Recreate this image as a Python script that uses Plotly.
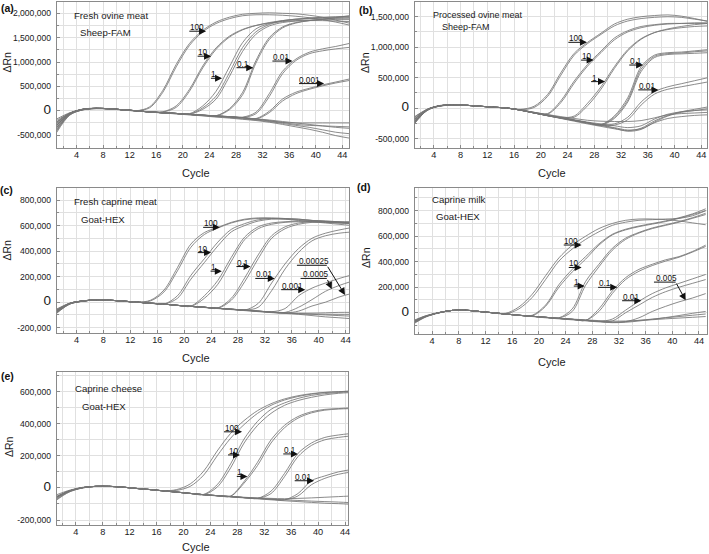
import plotly.graph_objects as go

# ---------------- data (ΔRn in thousands, read at odd cycles) ----------------
CYCLES = list(range(1, 46, 2))

# (a) Fresh ovine meat, Sheep-FAM
A_100_1 = [-250, -50, 30, 50, 40, 20, 0, 80, 420, 950, 1380, 1650, 1820, 1920, 1980, 2000, 2010, 2000, 1990, 1960, 1920, 1860, 1800]
A_100_2 = [-350, -70, 25, 50, 40, 20, 0, 60, 380, 900, 1340, 1620, 1790, 1890, 1950, 1970, 1970, 1960, 1940, 1910, 1870, 1820, 1760]
A_10_1 = [-300, -60, 30, 50, 40, 20, 0, -20, -20, 100, 440, 920, 1290, 1530, 1670, 1750, 1800, 1830, 1850, 1860, 1870, 1870, 1870]
A_10_2 = [-420, -80, 20, 45, 40, 20, 0, -20, -25, 70, 400, 880, 1260, 1510, 1660, 1750, 1810, 1850, 1880, 1900, 1920, 1930, 1940]
A_1_1 = [-200, -50, 30, 50, 40, 20, 0, -25, -40, -55, -60, 100, 400, 900, 1400, 1680, 1790, 1850, 1880, 1900, 1910, 1920, 1930]
A_1_2 = [-320, -60, 30, 50, 40, 20, 0, -25, -40, -55, -70, 60, 300, 780, 1300, 1620, 1770, 1840, 1870, 1890, 1900, 1900, 1900]
A_1_3 = [-270, -55, 30, 50, 40, 20, 0, -25, -40, -55, -72, 30, 240, 700, 1220, 1570, 1740, 1810, 1840, 1850, 1850, 1840, 1830]
A_01_1 = [-300, -60, 30, 50, 40, 20, 0, -25, -40, -55, -75, -90, -100, 40, 380, 1030, 1500, 1720, 1810, 1850, 1880, 1900, 1910]
A_01_2 = [-380, -70, 25, 50, 40, 20, 0, -25, -40, -55, -75, -90, -105, 20, 330, 980, 1460, 1700, 1800, 1850, 1880, 1910, 1950]
A_001_1 = [-300, -60, 30, 50, 40, 20, 0, -25, -40, -55, -75, -90, -105, -120, -130, -30, 350, 810, 1060, 1200, 1270, 1320, 1380]
A_001_2 = [-240, -50, 30, 50, 40, 20, 0, -25, -40, -55, -75, -90, -105, -125, -140, -60, 290, 760, 1030, 1170, 1230, 1270, 1300]
A_0001_1 = [-300, -60, 30, 50, 40, 20, 0, -25, -40, -55, -75, -90, -105, -120, -140, -160, -10, 240, 380, 460, 530, 590, 650]
A_0001_2 = [-350, -65, 28, 50, 40, 20, 0, -25, -40, -55, -75, -92, -108, -125, -145, -170, -40, 200, 350, 440, 510, 570, 620]
A_NEG_1 = [-170, -40, 35, 55, 40, 20, 0, -25, -40, -55, -75, -90, -105, -120, -140, -170, -210, -240, -250, -250, -250, -250, -250]
A_NEG_2 = [-300, -60, 30, 50, 40, 20, 0, -25, -40, -55, -75, -95, -110, -125, -145, -165, -190, -220, -250, -280, -310, -340, -360]
A_NEG_3 = [-400, -80, 20, 45, 40, 20, 0, -25, -45, -60, -80, -100, -120, -140, -165, -190, -220, -260, -300, -340, -390, -440, -470]
A_NEG_4 = [-450, -90, 20, 45, 35, 15, 0, -25, -45, -65, -85, -105, -130, -150, -175, -200, -235, -280, -330, -380, -440, -510, -560]
A_NEG_5 = [-230, -50, 30, 50, 40, 20, 0, -25, -40, -55, -75, -92, -110, -125, -145, -170, -200, -240, -280, -300, -310, -320, -330]

# (b) Processed ovine meat, Sheep-FAM
B_100_1 = [-200, -20, 40, 50, 45, 30, 15, 0, -20, 30, 220, 580, 900, 1080, 1230, 1380, 1460, 1500, 1520, 1530, 1510, 1470, 1420]
B_100_2 = [-260, -30, 35, 50, 45, 30, 15, 0, -25, 10, 190, 540, 870, 1060, 1210, 1350, 1430, 1470, 1490, 1500, 1490, 1460, 1430]
B_10_1 = [-230, -30, 40, 50, 45, 30, 15, 0, -33, -70, -90, 120, 445, 717, 935, 1150, 1270, 1340, 1370, 1390, 1390, 1390, 1390]
B_10_2 = [-180, -25, 40, 50, 45, 30, 15, 0, -33, -75, -100, 90, 410, 690, 910, 1120, 1250, 1320, 1360, 1380, 1390, 1400, 1400]
B_1_1 = [-230, -30, 40, 50, 45, 30, 15, 0, -33, -78, -120, -155, -130, 80, 350, 680, 960, 1140, 1240, 1290, 1320, 1340, 1350]
B_1_2 = [-250, -35, 38, 50, 45, 30, 15, 0, -35, -80, -122, -160, -150, 40, 310, 650, 940, 1130, 1240, 1300, 1340, 1370, 1390]
B_01_1 = [-230, -30, 40, 50, 45, 30, 15, 0, -33, -78, -120, -160, -200, -240, -270, -130, 170, 680, 870, 910, 920, 940, 960]
B_01_2 = [-270, -40, 35, 50, 45, 30, 15, 0, -35, -80, -125, -165, -205, -245, -280, -170, 100, 600, 830, 880, 890, 900, 910]
B_01_3 = [-200, -28, 40, 50, 45, 30, 15, 0, -33, -78, -120, -160, -200, -240, -275, -150, 130, 640, 850, 895, 905, 925, 940]
B_001_1 = [-230, -30, 40, 50, 45, 30, 15, 0, -33, -78, -120, -160, -200, -240, -275, -260, -150, 100, 270, 350, 400, 450, 500]
B_001_2 = [-160, -22, 42, 50, 45, 30, 15, 0, -33, -78, -120, -160, -200, -240, -280, -280, -190, 50, 230, 310, 350, 390, 430]
B_NEG_1 = [-270, -40, 35, 50, 45, 30, 15, 0, -35, -80, -125, -170, -215, -260, -300, -340, -370, -330, -210, -120, -60, -20, 20]
B_NEG_2 = [-150, -20, 45, 50, 45, 30, 15, 0, -30, -70, -110, -150, -190, -230, -260, -290, -320, -290, -180, -100, -60, -40, -30]
B_NEG_3 = [-230, -30, 40, 50, 45, 30, 15, 0, -30, -70, -105, -140, -170, -200, -215, -220, -220, -205, -160, -110, -90, -80, -70]
B_NEG_4 = [-200, -30, 40, 50, 45, 30, 15, 0, -35, -80, -120, -160, -200, -240, -280, -320, -360, -340, -240, -170, -140, -120, -110]
B_NEG_5 = [-250, -35, 40, 50, 45, 30, 15, 0, -35, -80, -125, -165, -205, -245, -285, -330, -380, -350, -230, -130, -70, -40, -10]

# (c) Fresh caprine meat, Goat-HEX
C_100_1 = [-70, -10, 10, 18, 15, 8, 0, 15, 95, 270, 455, 545, 585, 625, 650, 660, 660, 655, 650, 640, 632, 625, 620]
C_100_2 = [-85, -15, 8, 18, 15, 8, 0, 10, 80, 245, 430, 530, 580, 620, 645, 655, 655, 650, 640, 630, 620, 610, 600]
C_10_1 = [-70, -10, 10, 18, 15, 8, 0, -8, -15, 50, 210, 340, 470, 570, 615, 645, 655, 655, 650, 640, 635, 630, 625]
C_10_2 = [-60, -8, 10, 18, 15, 8, 0, -8, -15, 30, 180, 310, 440, 550, 600, 635, 650, 650, 645, 640, 635, 630, 630]
C_1_1 = [-70, -10, 10, 18, 15, 8, 0, -8, -15, -25, -30, 50, 170, 350, 510, 590, 620, 630, 635, 635, 630, 625, 620]
C_1_2 = [-80, -12, 9, 18, 15, 8, 0, -8, -15, -25, -33, 30, 140, 320, 490, 575, 610, 625, 630, 630, 625, 620, 615]
C_01_1 = [-70, -10, 10, 18, 15, 8, 0, -8, -15, -25, -33, -40, -45, 30, 190, 370, 520, 590, 620, 630, 630, 625, 620]
C_01_2 = [-90, -15, 8, 18, 15, 8, 0, -8, -15, -25, -33, -40, -48, 15, 160, 340, 500, 575, 610, 625, 625, 620, 615]
C_001_1 = [-70, -10, 10, 18, 15, 8, 0, -8, -15, -25, -33, -40, -48, -55, -62, -10, 150, 300, 420, 500, 540, 565, 585]
C_001_2 = [-75, -12, 10, 18, 15, 8, 0, -8, -15, -25, -33, -40, -48, -55, -62, -40, 90, 260, 390, 480, 520, 540, 550]
C_0001 = [-70, -10, 10, 18, 15, 8, 0, -8, -15, -25, -33, -40, -48, -55, -62, -70, -75, -50, 50, 110, 150, 185, 215]
C_00005 = [-80, -12, 9, 18, 15, 8, 0, -8, -15, -25, -33, -40, -48, -55, -62, -70, -78, -80, -40, 20, 85, 130, 165]
C_000025 = [-65, -10, 10, 18, 15, 8, 0, -8, -15, -25, -33, -40, -48, -55, -62, -70, -78, -85, -70, -30, 0, 40, 70]
C_NEG_1 = [-70, -10, 10, 18, 15, 8, 0, -8, -15, -25, -33, -40, -48, -55, -62, -70, -78, -85, -90, -95, -100, -105, -110]
C_NEG_2 = [-55, -8, 11, 18, 15, 8, 0, -8, -15, -25, -33, -40, -48, -55, -62, -70, -76, -82, -85, -85, -83, -80, -80]
C_NEG_3 = [-85, -14, 8, 18, 15, 8, 0, -8, -15, -25, -33, -42, -50, -58, -66, -74, -82, -88, -95, -105, -115, -122, -130]
C_NEG_4 = [-75, -12, 9, 18, 15, 8, 0, -8, -15, -25, -33, -40, -48, -56, -64, -72, -80, -86, -90, -92, -94, -95, -95]

# (d) Caprine milk, Goat-HEX
D_100_1 = [-80, -30, 0, 18, 20, 10, 0, -10, 30, 120, 260, 405, 500, 575, 635, 685, 710, 725, 730, 735, 740, 760, 800]
D_100_2 = [-70, -25, 0, 18, 20, 10, 0, -5, 45, 145, 290, 430, 530, 600, 660, 700, 725, 735, 735, 730, 720, 705, 690]
D_10_1 = [-80, -30, 0, 18, 20, 10, 0, -10, -20, -25, 50, 200, 320, 420, 530, 610, 650, 675, 695, 715, 740, 770, 800]
D_10_2 = [-75, -28, 0, 18, 20, 10, 0, -10, -20, -20, 60, 220, 340, 440, 540, 615, 655, 680, 700, 720, 745, 775, 815]
D_1_1 = [-80, -30, 0, 18, 20, 10, 0, -10, -20, -28, -36, -40, 30, 245, 380, 505, 585, 630, 665, 690, 715, 745, 780]
D_1_2 = [-85, -32, 0, 18, 20, 10, 0, -10, -20, -28, -36, -42, 10, 215, 360, 490, 575, 625, 660, 685, 710, 740, 770]
D_01_1 = [-80, -30, 0, 18, 20, 10, 0, -10, -20, -28, -36, -45, -52, -60, 30, 170, 275, 340, 380, 415, 440, 480, 530]
D_01_2 = [-90, -33, 0, 18, 20, 10, 0, -10, -20, -28, -36, -45, -52, -60, 10, 150, 260, 325, 370, 405, 435, 475, 520]
D_001_1 = [-80, -30, 0, 18, 20, 10, 0, -10, -20, -28, -36, -45, -52, -60, -68, -50, 20, 90, 150, 195, 230, 265, 300]
D_001_2 = [-70, -28, 0, 18, 20, 10, 0, -10, -20, -28, -36, -45, -52, -60, -68, -65, 0, 60, 120, 165, 200, 230, 260]
D_0005 = [-80, -30, 0, 18, 20, 10, 0, -10, -20, -28, -36, -45, -52, -60, -68, -75, -70, -40, 10, 50, 85, 115, 150]
D_NEG_1 = [-80, -30, 0, 18, 20, 10, 0, -10, -20, -28, -36, -45, -52, -60, -68, -75, -70, -60, -50, -40, -30, -20, -10]
D_NEG_2 = [-95, -35, -2, 18, 20, 10, 0, -10, -20, -30, -40, -48, -56, -64, -72, -78, -75, -65, -52, -38, -22, -5, 10]
D_NEG_3 = [-65, -25, 2, 18, 20, 10, 0, -10, -20, -28, -36, -44, -50, -56, -62, -66, -65, -60, -55, -48, -42, -36, -30]

# (e) Caprine cheese, Goat-HEX
E_100_1 = [-60, -20, 2, 10, 10, 5, -3, -10, -18, -15, 10, 80, 200, 310, 395, 465, 515, 548, 570, 585, 595, 600, 605]
E_100_2 = [-75, -25, 0, 10, 10, 5, -3, -10, -18, -10, 25, 105, 230, 340, 420, 482, 525, 555, 575, 588, 596, 600, 603]
E_10_1 = [-60, -20, 2, 10, 10, 5, -3, -10, -18, -26, -34, -40, 20, 150, 305, 415, 490, 530, 558, 577, 588, 595, 600]
E_10_2 = [-55, -18, 2, 10, 10, 5, -3, -10, -18, -26, -34, -42, 5, 125, 280, 390, 465, 515, 545, 565, 580, 590, 595]
E_1_1 = [-60, -20, 2, 10, 10, 5, -3, -10, -18, -26, -34, -42, -48, -50, 40, 160, 300, 390, 445, 475, 490, 495, 500]
E_1_2 = [-70, -22, 1, 10, 10, 5, -3, -10, -18, -26, -34, -42, -48, -52, 30, 140, 280, 375, 435, 468, 485, 492, 495]
E_01_1 = [-60, -20, 2, 10, 10, 5, -3, -10, -18, -26, -34, -42, -48, -54, -60, -65, -20, 90, 215, 280, 315, 330, 340]
E_01_2 = [-65, -21, 2, 10, 10, 5, -3, -10, -18, -26, -34, -42, -48, -54, -60, -65, -35, 70, 195, 265, 300, 315, 325]
E_001_1 = [-60, -20, 2, 10, 10, 5, -3, -10, -18, -26, -34, -42, -48, -54, -60, -65, -70, -74, -35, 45, 75, 100, 115]
E_001_2 = [-58, -19, 2, 10, 10, 5, -3, -10, -18, -26, -34, -42, -48, -54, -60, -65, -70, -74, -50, 20, 60, 85, 100]
E_NEG_1 = [-60, -20, 2, 10, 10, 5, -3, -10, -18, -26, -34, -42, -48, -54, -60, -65, -70, -74, -78, -82, -85, -88, -92]
E_NEG_2 = [-80, -26, 0, 10, 10, 5, -3, -10, -18, -26, -34, -42, -50, -56, -62, -68, -74, -80, -85, -90, -95, -98, -102]
E_NEG_3 = [-45, -15, 4, 10, 10, 5, -3, -10, -18, -26, -34, -42, -48, -53, -58, -62, -65, -67, -65, -62, -58, -54, -50]

# tick labels
X_TICKS = [4, 8, 12, 16, 20, 24, 28, 32, 36, 40, 44]
A_YTICKS = [-500000, 0, 500000, 1000000, 1500000, 2000000]
B_YTICKS = [-500000, 0, 500000, 1000000, 1500000]
C_YTICKS = [-200000, 0, 200000, 400000, 600000, 800000]
D_YTICKS = [0, 200000, 400000, 600000, 800000]
E_YTICKS = [-200000, 0, 200000, 400000, 600000]

# dilution labels: (text, x_start, x_end_of_underline, y_line_k, tip_x or None, tip_y_k or None)
A_LABELS = [("100", 20.75, 23.5, 1633, None, None), ("10", 22.0, 24.25, 1120, None, None),
            ("1", 24.0, 25.9, 667, None, None), ("0.1", 27.85, 30.6, 884, None, None),
            ("0.01", 33.25, 36.5, 1020, None, None), ("0.001", 37.25, 41.25, 558, None, None)]
B_LABELS = [("100", 23.9, 26.9, 1080, None, None), ("10", 25.8, 27.9, 788, None, None),
            ("1", 27.3, 29.6, 435, None, None), ("0.1", 33.0, 35.3, 707, None, None),
            ("0.01", 34.35, 37.6, 299, None, None)]
C_LABELS = [("100", 22.6, 25.3, 586, None, None), ("10", 21.8, 24.0, 388, None, None),
            ("1", 23.7, 25.6, 243, None, None), ("0.1", 27.55, 29.87, 279, None, None),
            ("0.01", 30.35, 33.46, 186, None, None), ("0.001", 34.2, 38.0, 98, None, None),
            ("0.0005", 37.3, 41.2, 186, 41.93, 103), ("0.00025", 36.76, 41.2, 289, 43.9, 57)]
D_LABELS = [("100", 23.5, 26.4, 531, None, None), ("10", 24.25, 26.4, 355, None, None),
            ("1", 25.0, 26.85, 209, None, None), ("0.1", 28.65, 31.75, 199, None, None),
            ("0.01", 32.25, 35.35, 94, None, None), ("0.005", 37.25, 40.5, 240, 42.0, 97)]
E_LABELS = [("100", 25.8, 28.7, 350, None, None), ("10", 26.4, 28.4, 206, None, None),
            ("1", 27.7, 29.5, 72, None, None), ("0.1", 34.6, 37.0, 212, None, None),
            ("0.01", 36.3, 39.4, 45, None, None)]

# ---------------- layout helpers ----------------
W, H = 709, 554
FONT = "Liberation Sans, Arial, Helvetica, sans-serif"
LINE = "#767676"
GRID = "#e0e0e0"
FRAME = "#8a8a8a"


def fx(p):
    return p / W


def fy(p):
    return 1 - p / H


PANELS = [
    dict(n="", letter="(a)", curves=[A_100_1, A_100_2, A_10_1, A_10_2, A_1_1, A_1_2, A_1_3, A_01_1, A_01_2,
                                     A_001_1, A_001_2, A_0001_1, A_0001_2, A_NEG_1, A_NEG_2, A_NEG_3, A_NEG_4, A_NEG_5],
         xpx=(57, 350), ypx=(2, 148), xr=(1.05, 45), yr=(-764000, 2232000), yt=A_YTICKS, ym=250000,
         labels=A_LABELS, t1="Fresh ovine meat", t2="Sheep-FAM", tfs=9.6,
         t1p=(72, 16), t2p=(78, 32.5), letp=(8, 8), yttl=(7.5, 62), xttl=(197, 173)),
    dict(n="2", letter="(b)", curves=[B_100_1, B_100_2, B_10_1, B_10_2, B_1_1, B_1_2, B_01_1, B_01_2, B_01_3,
                                      B_001_1, B_001_2, B_NEG_1, B_NEG_2, B_NEG_3, B_NEG_4, B_NEG_5],
         xpx=(416, 709), ypx=(2, 148), xr=(1.17, 44.85), yr=(-655000, 1742000), yt=B_YTICKS, ym=250000,
         labels=B_LABELS, t1="Processed ovine meat", t2="Sheep-FAM", tfs=9.0,
         t1p=(432, 14.5), t2p=(441, 27), letp=(367, 10), yttl=(366, 62), xttl=(554, 173)),
    dict(n="3", letter="(c)", curves=[C_100_1, C_100_2, C_10_1, C_10_2, C_1_1, C_1_2, C_01_1, C_01_2,
                                      C_001_1, C_001_2, C_0001, C_00005, C_000025,
                                      C_NEG_1, C_NEG_2, C_NEG_3, C_NEG_4],
         xpx=(57, 350), ypx=(188, 332.7), xr=(1.08, 44.5), yr=(-239000, 894000), yt=C_YTICKS, ym=100000,
         labels=C_LABELS, t1="Fresh caprine meat", t2="Goat-HEX", tfs=9.6,
         t1p=(72, 201.5), t2p=(79, 219), letp=(7, 190), yttl=(7.5, 250), xttl=(197, 358)),
    dict(n="4", letter="(d)", curves=[D_100_1, D_100_2, D_10_1, D_10_2, D_1_1, D_1_2, D_01_1, D_01_2,
                                      D_001_1, D_001_2, D_0005, D_NEG_1, D_NEG_2, D_NEG_3],
         xpx=(416, 709), ypx=(188.3, 334), xr=(1.4, 45.2), yr=(-167000, 976000), yt=D_YTICKS, ym=100000,
         labels=D_LABELS, t1="Caprine milk", t2="Goat-HEX", tfs=9.6,
         t1p=(431, 199), t2p=(435, 216), letp=(365, 187), yttl=(367, 257), xttl=(554, 362)),
    dict(n="5", letter="(e)", curves=[E_100_1, E_100_2, E_10_1, E_10_2, E_1_1, E_1_2, E_01_1, E_01_2,
                                      E_001_1, E_001_2, E_NEG_1, E_NEG_2, E_NEG_3],
         xpx=(57, 349), ypx=(372, 525), xr=(1.19, 44.44), yr=(-231000, 723000), yt=E_YTICKS, ym=100000,
         labels=E_LABELS, t1="Caprine cheese", t2="Goat-HEX", tfs=9.6,
         t1p=(73, 388.5), t2p=(80, 406), letp=(8, 376), yttl=(9, 446), xttl=(197, 547)),
]


def ytext(v):
    if v == 0:
        return '<span style="font-size:13.5px">0</span>'
    return f"{v:,}"


fig = go.Figure()
annotations = []
shapes = []

for p in PANELS:
    xa, ya = "x" + p["n"], "y" + p["n"]
    for c in p["curves"]:
        fig.add_trace(go.Scatter(
            x=CYCLES, y=[v * 1000 for v in c], mode="lines",
            line=dict(color=LINE, width=0.85, shape="spline", smoothing=0.9),
            xaxis=xa, yaxis=ya, showlegend=False, hoverinfo="skip"))

    common = dict(showline=True, mirror=True, linecolor=FRAME, linewidth=1,
                  showgrid=True, gridcolor=GRID, gridwidth=0.8, zeroline=False,
                  ticks="inside", ticklen=3, tickcolor=FRAME, ticklabeloverflow="allow",
                  tickfont=dict(family=FONT, size=8.6, color="#1a1a1a"))
    fig.update_layout(**{
        "xaxis" + p["n"]: dict(common, domain=[fx(p["xpx"][0]), fx(p["xpx"][1])],
                               anchor=ya, range=list(p["xr"]),
                               tickmode="array", tickvals=X_TICKS,
                               ticktext=[str(t) for t in X_TICKS],
                               tickfont=dict(family=FONT, size=9.2, color="#1a1a1a"),
                               ticklabelstandoff=-2,
                               minor=dict(tickmode="linear", tick0=0, dtick=2, showgrid=True,
                                          gridcolor=GRID, gridwidth=0.8, ticks="inside", ticklen=2,
                                          tickcolor=FRAME)),
        "yaxis" + p["n"]: dict(common, domain=[fy(p["ypx"][1]), fy(p["ypx"][0])],
                               anchor=xa, range=list(p["yr"]),
                               tickmode="array", tickvals=p["yt"],
                               ticktext=[ytext(v) for v in p["yt"]],
                               ticklabelstandoff=3,
                               minor=dict(tickmode="linear", tick0=0, dtick=p["ym"], showgrid=True,
                                          gridcolor=GRID, gridwidth=0.8, ticks="inside", ticklen=2,
                                          tickcolor=FRAME)),
    })

    # panel letter, titles, axis titles
    annotations.append(dict(text="<b>" + p["letter"] + "</b>", x=fx(p["letp"][0]), y=fy(p["letp"][1]),
                            xref="paper", yref="paper", xanchor="center", yanchor="middle",
                            showarrow=False, font=dict(family=FONT, size=10.5, color="#111")))
    annotations.append(dict(text=p["t1"], x=fx(p["t1p"][0]), y=fy(p["t1p"][1]), xref="paper", yref="paper",
                            xanchor="left", yanchor="middle", showarrow=False,
                            font=dict(family=FONT, size=p["tfs"], color="#1a1a1a")))
    annotations.append(dict(text=p["t2"], x=fx(p["t2p"][0]), y=fy(p["t2p"][1]), xref="paper", yref="paper",
                            xanchor="left", yanchor="middle", showarrow=False,
                            font=dict(family=FONT, size=p["tfs"], color="#1a1a1a")))
    annotations.append(dict(text="ΔRn", x=fx(p["yttl"][0]), y=fy(p["yttl"][1]), xref="paper", yref="paper",
                            xanchor="center", yanchor="middle", textangle=-90, showarrow=False,
                            font=dict(family=FONT, size=10.5, color="#1a1a1a")))
    annotations.append(dict(text="Cycle", x=fx(p["xttl"][0]), y=fy(p["xttl"][1]), xref="paper", yref="paper",
                            xanchor="center", yanchor="middle", showarrow=False,
                            font=dict(family=FONT, size=11, color="#1a1a1a")))

    # dilution labels with underline arrows
    for (txt, xs, xe, yl, tx, ty) in p["labels"]:
        annotations.append(dict(text=txt, x=xs, y=yl * 1000, xref=xa, yref=ya,
                                xanchor="left", yanchor="bottom", yshift=-3, showarrow=False,
                                font=dict(family=FONT, size=8.2, color="#111")))
        if tx is None:
            annotations.append(dict(text="", x=xe, y=yl * 1000, ax=xs, ay=yl * 1000,
                                    xref=xa, yref=ya, axref=xa, ayref=ya, showarrow=True,
                                    arrowhead=2, arrowsize=1.4, arrowwidth=1, arrowcolor="#111",
                                    standoff=0, startstandoff=0))
        else:
            shapes.append(dict(type="line", x0=xs, x1=xe, y0=yl * 1000, y1=yl * 1000,
                               xref=xa, yref=ya, line=dict(color="#111", width=1)))
            annotations.append(dict(text="", x=tx, y=ty * 1000, ax=xe, ay=yl * 1000,
                                    xref=xa, yref=ya, axref=xa, ayref=ya, showarrow=True,
                                    arrowhead=2, arrowsize=1.4, arrowwidth=1, arrowcolor="#111",
                                    standoff=0, startstandoff=0))

fig.update_layout(width=W, height=H, autosize=False, margin=dict(l=0, r=0, t=0, b=0),
                  paper_bgcolor="white", plot_bgcolor="white", showlegend=False,
                  hovermode=False, annotations=annotations, shapes=shapes,
                  font=dict(family=FONT, color="#1a1a1a"))

fig.write_html("out.html", config={"displayModeBar": False},
               post_script="document.body.style.margin='0';document.body.style.padding='0';"
                           "document.body.style.overflow='hidden';")
